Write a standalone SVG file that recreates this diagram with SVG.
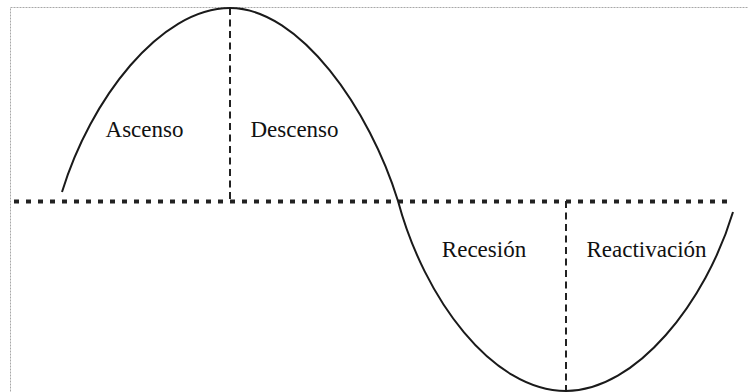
<svg xmlns="http://www.w3.org/2000/svg" width="748" height="392" viewBox="0 0 748 392">
<style>
.frame{fill:none;stroke:#a8a8a8;stroke-width:1;stroke-dasharray:2 1}
.curve{fill:none;stroke:#1a1a1a;stroke-width:2}
.axis{fill:none;stroke:#222;stroke-width:4;stroke-dasharray:5 7}
.vdash{fill:none;stroke:#222;stroke-width:2;stroke-dasharray:7 4.5}
.lbl{font-family:"Liberation Serif","Times New Roman",serif;font-size:23px;fill:#111;text-anchor:middle}
</style>
<rect class="frame" x="10.5" y="7.5" width="745" height="392"/>
<g id="connectors">
<line class="axis" x1="14" y1="201.5" x2="730" y2="201.5"/>
<line class="vdash" x1="230" y1="8" x2="230" y2="201"/>
<line class="vdash" x1="566" y1="201" x2="566" y2="391"/>
</g>
<g id="wave">
<path class="curve" d="M62,192 C90,100 160,8 230,8 C300,8 370,110 398,201 C424,298 492,391 566,391 C636,391 706,302 733,212"/>
</g>
<g id="ascenso"><text class="lbl" x="144.5" y="137">Ascenso</text></g>
<g id="descenso"><text class="lbl" x="294.5" y="137">Descenso</text></g>
<g id="recesion"><text class="lbl" x="484" y="257">Recesión</text></g>
<g id="reactivacion"><text class="lbl" x="646.5" y="257">Reactivación</text></g>
</svg>
